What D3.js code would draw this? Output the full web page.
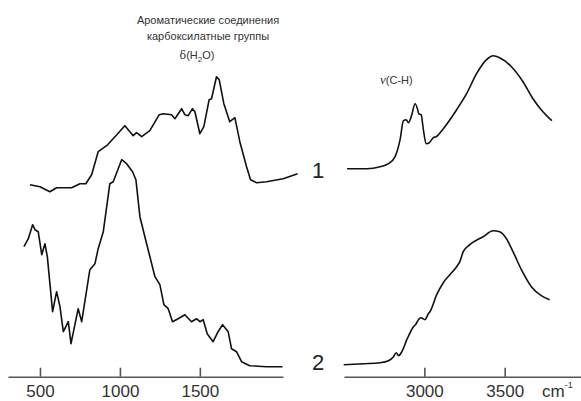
<!DOCTYPE html>
<html>
  <head>
    <meta charset="utf-8" />
    <title>IR spectra</title>
    <script src="https://cdn.jsdelivr.net/npm/d3@7/dist/d3.min.js"></script>
    <style>
      body { margin: 0; background: #fff; }
      text { font-family: "Liberation Sans", Arial, sans-serif; }
    </style>
  </head>
  <body>
    <script>
      // wavenumbers (cm-1) and intensity (arb. units)
      const wnLeft1 = [437, 500, 562, 604, 698, 750, 787, 823, 864, 917, 969, 1031, 1083, 1104, 1136, 1187, 1246, 1271, 1323, 1344, 1386, 1406, 1427, 1454, 1469, 1500, 1525, 1558, 1573, 1604, 1621, 1650, 1687, 1719, 1750, 1792, 1817, 1854, 1917, 2021, 2111];
      const aLeft1 = [1.92, 1.90, 1.85, 1.89, 1.89, 1.93, 1.93, 2.02, 2.25, 2.31, 2.40, 2.51, 2.41, 2.44, 2.40, 2.46, 2.62, 2.63, 2.62, 2.58, 2.68, 2.62, 2.61, 2.68, 2.65, 2.43, 2.50, 2.77, 2.78, 3.00, 2.97, 2.73, 2.55, 2.59, 2.35, 2.10, 1.97, 1.94, 1.95, 1.98, 2.03];

      const wnLeft2 = [400, 427, 454, 469, 489, 511, 531, 546, 579, 604, 625, 646, 677, 694, 712, 739, 761, 812, 844, 864, 896, 937, 958, 1011, 1042, 1079, 1100, 1125, 1167, 1219, 1250, 1275, 1302, 1329, 1364, 1406, 1448, 1479, 1500, 1521, 1546, 1583, 1614, 1642, 1677, 1698, 1729, 1761, 1812, 1917, 2017];
      const aLeft2 = [1.30, 1.38, 1.52, 1.47, 1.45, 1.22, 1.33, 1.20, 0.65, 0.85, 0.70, 0.45, 0.55, 0.33, 0.47, 0.68, 0.55, 1.07, 1.13, 1.28, 1.45, 1.93, 1.95, 2.17, 2.13, 2.05, 1.97, 1.60, 1.33, 1.00, 0.92, 0.72, 0.68, 0.55, 0.58, 0.62, 0.55, 0.58, 0.55, 0.57, 0.43, 0.35, 0.45, 0.52, 0.45, 0.28, 0.25, 0.15, 0.11, 0.10, 0.10];

      const wnRight1 = [2519, 2643, 2725, 2777, 2818, 2849, 2870, 2887, 2901, 2922, 2942, 2957, 2965, 2980, 2994, 3011, 3031, 3056, 3073, 3118, 3201, 3263, 3325, 3387, 3428, 3469, 3542, 3614, 3676, 3738, 3794];
      const aRight1 = [2.08, 2.08, 2.10, 2.13, 2.20, 2.37, 2.56, 2.57, 2.54, 2.62, 2.73, 2.68, 2.63, 2.62, 2.47, 2.33, 2.34, 2.39, 2.40, 2.48, 2.67, 2.83, 3.03, 3.17, 3.21, 3.19, 3.10, 2.95, 2.78, 2.65, 2.56];

      const wnRight2 = [2498, 2622, 2725, 2777, 2808, 2825, 2839, 2860, 2891, 2928, 2949, 2963, 2978, 3004, 3025, 3035, 3077, 3118, 3159, 3201, 3221, 3242, 3283, 3366, 3428, 3469, 3511, 3552, 3604, 3666, 3728, 3780];
      const aRight2 = [0.12, 0.13, 0.14, 0.16, 0.20, 0.24, 0.21, 0.25, 0.37, 0.49, 0.53, 0.57, 0.59, 0.57, 0.63, 0.65, 0.82, 0.94, 1.02, 1.10, 1.15, 1.25, 1.32, 1.40, 1.46, 1.45, 1.38, 1.25, 1.07, 0.90, 0.81, 0.77];

      const ticksLeft = [500, 1000, 1500];
      const ticksRight = [3000, 3500];
      const curveNames = ["1", "2"];
      const bandNotes = ["Ароматические соединения", "карбоксилатные группы"];

      const w = 581;
      const h = 401;
      const axisY = 376.7;

      const xLeft = d3.scaleLinear().domain([300, 2020]).range([8, 283]);
      const xRight = d3.scaleLinear().domain([2500, 3975]).range([344, 581]);
      const y = d3.scaleLinear().domain([0, 3.767]).range([axisY, 0]);

      const svg = d3
        .select("body")
        .append("svg")
        .attr("width", w)
        .attr("height", h);

      const zip = (xs, ys) => xs.map((d, i) => [d, ys[i]]);

      const lineL = d3.line().x(d => xLeft(d[0])).y(d => y(d[1]));
      const lineR = d3
        .line()
        .x(d => xRight(d[0]))
        .y(d => y(d[1]))
        .curve(d3.curveMonotoneX);

      const spectra = [
        { pts: zip(wnLeft1, aLeft1), gen: lineL },
        { pts: zip(wnLeft2, aLeft2), gen: lineL },
        { pts: zip(wnRight1, aRight1), gen: lineR },
        { pts: zip(wnRight2, aRight2), gen: lineR }
      ];

      svg
        .selectAll("path.spec")
        .data(spectra)
        .enter()
        .append("path")
        .attr("class", "spec")
        .attr("d", d => d.gen(d.pts))
        .attr("fill", "none")
        .attr("stroke", "#111")
        .attr("stroke-width", 1.6)
        .attr("stroke-linejoin", "round");

      // axes with ticks pointing up
      function drawAxis(scale, vals) {
        const g = svg
          .append("g")
          .attr("transform", "translate(0," + axisY + ")")
          .call(
            d3
              .axisBottom(scale)
              .tickValues(vals)
              .tickFormat(d3.format("d"))
              .tickSizeInner(-9)
              .tickSizeOuter(0)
              .tickPadding(8)
          );
        g.select(".domain").attr("stroke", "#555").attr("stroke-width", 1.6);
        g.selectAll(".tick line").attr("stroke", "#555").attr("stroke-width", 1.6);
        g.selectAll(".tick text")
          .attr("font-family", "Liberation Sans, Arial, sans-serif")
          .attr("font-size", 17)
          .attr("fill", "#333");
      }
      drawAxis(xLeft, ticksLeft);
      drawAxis(xRight, ticksRight);

      const unit = svg
        .append("text")
        .attr("x", 542)
        .attr("y", 397)
        .attr("font-size", 17)
        .attr("fill", "#333")
        .text("cm");
      unit
        .append("tspan")
        .attr("dy", -9)
        .attr("font-size", 9)
        .text("-1");

      // curve numbers
      svg
        .selectAll("text.num")
        .data(curveNames)
        .enter()
        .append("text")
        .attr("class", "num")
        .attr("x", 318)
        .attr("y", (d, i) => (i === 0 ? 178 : 370))
        .attr("text-anchor", "middle")
        .attr("font-size", 22)
        .attr("fill", "#222")
        .text(d => d);

      // band annotations
      svg
        .selectAll("text.note")
        .data(bandNotes)
        .enter()
        .append("text")
        .attr("class", "note")
        .attr("x", 208)
        .attr("y", (d, i) => 24 + i * 16)
        .attr("text-anchor", "middle")
        .attr("font-size", 11)
        .attr("fill", "#333")
        .text(d => d);

      const dH2O = svg
        .append("text")
        .attr("x", 197)
        .attr("y", 59)
        .attr("text-anchor", "middle")
        .attr("font-size", 11)
        .attr("fill", "#333");
      dH2O.append("tspan").attr("font-family", "DejaVu Serif, serif").text("δ");
      dH2O.append("tspan").text("(H");
      dH2O.append("tspan").attr("font-size", 8).attr("dy", 3).text("2");
      dH2O.append("tspan").attr("dy", -3).text("O)");

      const nuCH = svg
        .append("text")
        .attr("x", 380)
        .attr("y", 84)
        .attr("font-size", 11)
        .attr("fill", "#333");
      nuCH
        .append("tspan")
        .attr("font-family", "Liberation Serif, serif")
        .attr("font-style", "italic")
        .attr("font-size", 13)
        .text("ν");
      nuCH.append("tspan").text("(C-H)");
    </script>
  </body>
</html>
